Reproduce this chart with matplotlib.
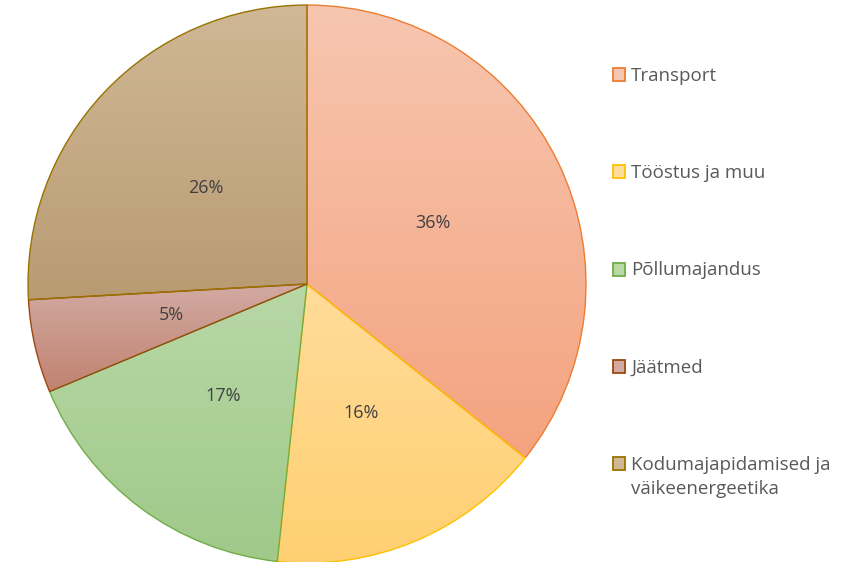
import numpy as np
import matplotlib.pyplot as plt
from matplotlib.colors import LinearSegmentedColormap
from matplotlib.patches import Rectangle

plt.rcParams['font.family'] = ['Open Sans', 'DejaVu Sans']

labels = ['Transport', 'Tööstus ja muu', 'Põllumajandus', 'Jäätmed',
          'Kodumajapidamised ja\nväikeenergeetika']
shares = [35.7, 16.0, 17.0, 5.4, 25.9]
# gradient top colour, bottom colour, edge colour
tops = ['#f7c6b0', '#ffdc9a', '#b8d8a6', '#d2aaa2', '#d0b896']
bottoms = ['#f4a37f', '#ffd072', '#a0c98a', '#c08270', '#b99b72']
edges = ['#ed7d31', '#ffc000', '#70ad47', '#9e480e', '#997300']

fig = plt.figure(figsize=(8.6, 5.62), dpi=100)
ax = fig.add_axes([0.0326, -0.0018, 0.6488, 0.9929])

wedges, _, pcts = ax.pie(shares, startangle=90, counterclock=False,
                         autopct='%1.0f%%', pctdistance=0.5, radius=1,
                         wedgeprops=dict(linewidth=1.0),
                         textprops=dict(color='#404040', fontsize=13))
for w, t, b, e in zip(wedges, tops, bottoms, edges):
    w.set_facecolor('none')
    w.set_edgecolor(e)
    bb = w.get_path().get_extents(w.get_transform() + ax.transData.inverted())
    cmap = LinearSegmentedColormap.from_list('g', [b, t])
    grad = np.linspace(0, 1, 256).reshape(-1, 1)
    im = ax.imshow(grad, cmap=cmap, origin='lower', aspect='auto',
                   extent=[bb.x0, bb.x1, bb.y0, bb.y1], zorder=0.5)
    im.set_clip_path(w)
ax.set_xlim(-1, 1)
ax.set_ylim(-1, 1)
ax.set_aspect('equal')
ax.axis('off')

# legend on the right
y0 = 1 - 74.5 / 562
step = 97.3 / 562
for i, (lab, t, e) in enumerate(zip(labels, tops, edges)):
    y = y0 - i * step
    fig.patches.append(Rectangle((613 / 860, y - 6.5 / 562), 12 / 860, 13 / 562,
                                 transform=fig.transFigure, facecolor=t,
                                 edgecolor=e, linewidth=1.3))
    fig.text(631 / 860, y + 8 / 562, lab, color='#595959', fontsize=13.5,
             va='top', ha='left', linespacing=1.48)

fig.savefig('out.png', dpi=100)
